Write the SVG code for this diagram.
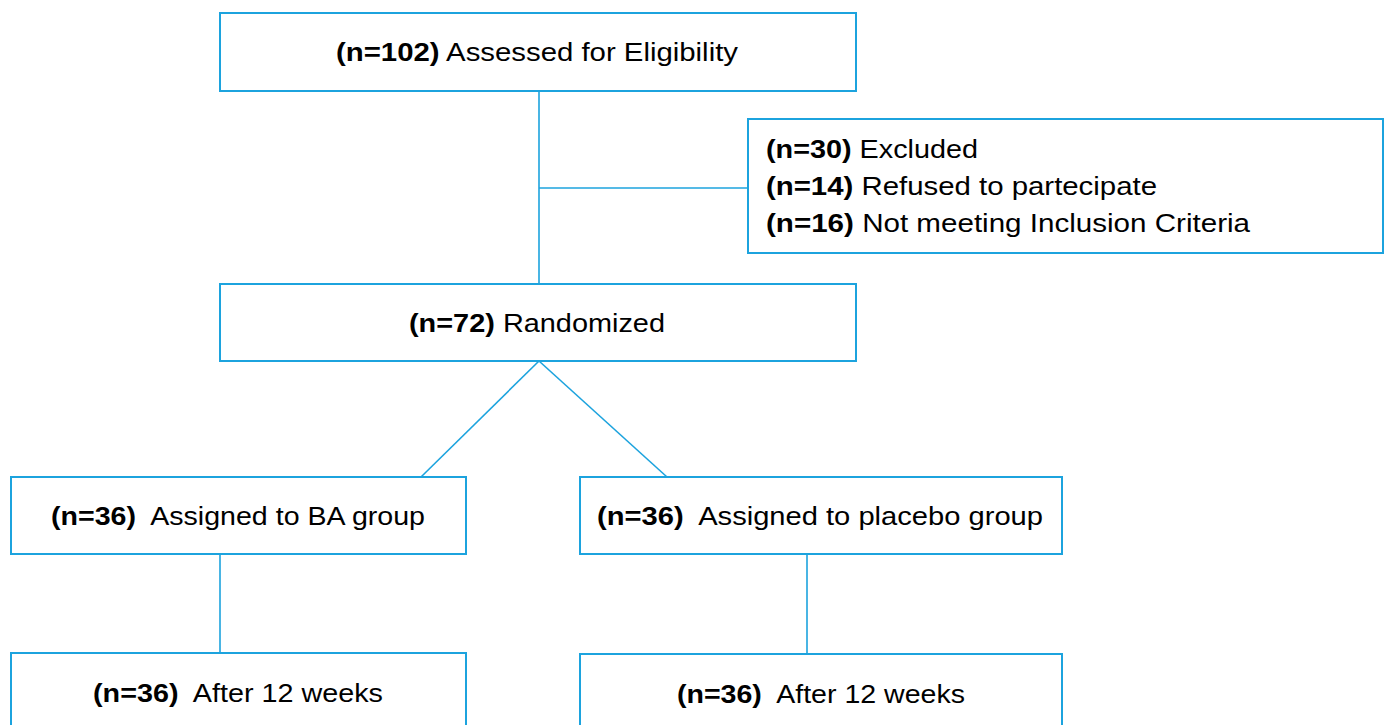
<svg xmlns="http://www.w3.org/2000/svg" width="1387" height="725" viewBox="0 0 1387 725">
<style>
.box{fill:#fff;stroke:#1ca3de;stroke-width:2}
.con{fill:none;stroke:#1ca3de;stroke-width:1.6}
text{font-family:"Liberation Sans",Arial,sans-serif;font-size:26px;fill:#000;white-space:pre}
.b{font-weight:bold}
</style>
<rect width="1387" height="725" fill="#fff"/>
<g id="connectors">
<line class="con" x1="539" y1="91" x2="539" y2="284"/>
<line class="con" x1="539" y1="188" x2="748" y2="188"/>
<line class="con" x1="539" y1="361" x2="421" y2="477"/>
<line class="con" x1="539" y1="361" x2="667" y2="477"/>
<line class="con" x1="220" y1="554" x2="220" y2="653"/>
<line class="con" x1="807" y1="554" x2="807" y2="654"/>
</g>
<g id="assessed">
<rect class="box" x="220" y="13" width="636" height="78"/>
<text x="336" y="61" textLength="402" lengthAdjust="spacingAndGlyphs"><tspan class="b">(n=102)</tspan> Assessed for Eligibility</text>
</g>
<g id="excluded">
<rect class="box" x="748" y="119" width="635" height="134"/>
<text x="766" y="158" textLength="212" lengthAdjust="spacingAndGlyphs"><tspan class="b">(n=30)</tspan> Excluded</text>
<text x="766" y="195" textLength="391" lengthAdjust="spacingAndGlyphs"><tspan class="b">(n=14)</tspan> Refused to partecipate</text>
<text x="766" y="232" textLength="484" lengthAdjust="spacingAndGlyphs"><tspan class="b">(n=16)</tspan> Not meeting Inclusion Criteria</text>
</g>
<g id="randomized">
<rect class="box" x="220" y="284" width="636" height="77"/>
<text x="409" y="332" textLength="256" lengthAdjust="spacingAndGlyphs"><tspan class="b">(n=72)</tspan> Randomized</text>
</g>
<g id="ba_group">
<rect class="box" x="11" y="477" width="455" height="77"/>
<text x="51" y="525" textLength="374" lengthAdjust="spacingAndGlyphs"><tspan class="b">(n=36)</tspan>  Assigned to BA group</text>
</g>
<g id="placebo_group">
<rect class="box" x="580" y="477" width="482" height="77"/>
<text x="597" y="525" textLength="446" lengthAdjust="spacingAndGlyphs"><tspan class="b">(n=36)</tspan>  Assigned to placebo group</text>
</g>
<g id="ba_12w">
<rect class="box" x="11" y="653" width="455" height="90"/>
<text x="93" y="702" textLength="290" lengthAdjust="spacingAndGlyphs"><tspan class="b">(n=36)</tspan>  After 12 weeks</text>
</g>
<g id="placebo_12w">
<rect class="box" x="580" y="654" width="482" height="90"/>
<text x="677" y="703" textLength="288" lengthAdjust="spacingAndGlyphs"><tspan class="b">(n=36)</tspan>  After 12 weeks</text>
</g>
</svg>
